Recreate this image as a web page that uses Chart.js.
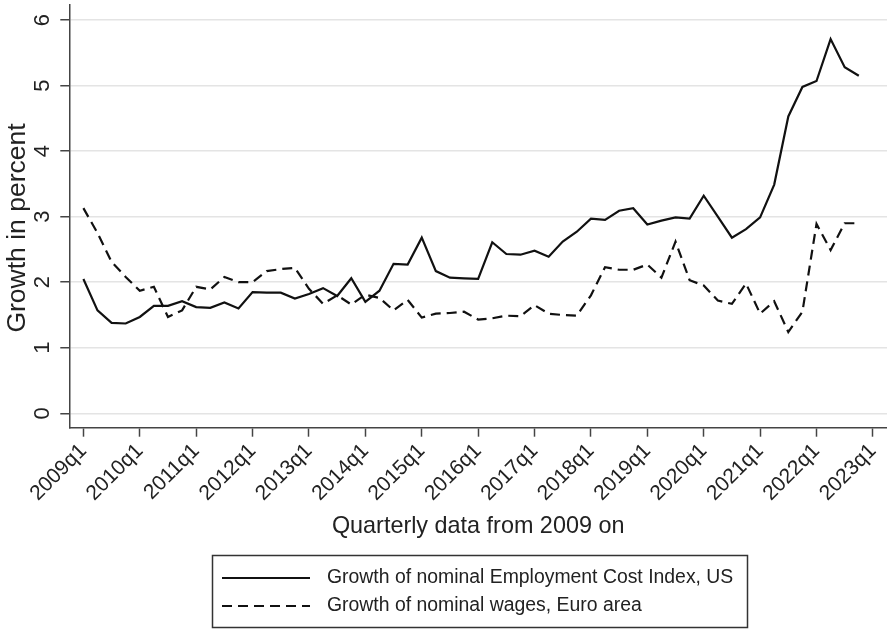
<!DOCTYPE html>
<html>
<head>
<meta charset="utf-8">
<script src="https://cdn.jsdelivr.net/npm/chart.js@4.4.1/dist/chart.umd.min.js"></script>
<style>
  html, body { margin: 0; padding: 0; background: #fff; }
  #wrap { width: 887px; height: 630px; }
</style>
</head>
<body>
<div id="wrap"><canvas id="chart" width="887" height="630"></canvas></div>
<script>
// quarters 2009q1 .. 2022q4 (index 0..55), ticks every 4 quarters
const tickLabels = ['2009q1','2010q1','2011q1','2012q1','2013q1','2014q1','2015q1',
  '2016q1','2017q1','2018q1','2019q1','2020q1','2021q1','2022q1','2023q1'];
const yTicks = [0, 1, 2, 3, 4, 5, 6];

const usEci = [
  2.05, 1.57, 1.38, 1.37, 1.47, 1.64, 1.64, 1.71, 1.62, 1.61, 1.69, 1.60, 1.85, 1.84,
  1.84, 1.75, 1.82, 1.91, 1.79, 2.06, 1.70, 1.87, 2.28, 2.27, 2.68, 2.17, 2.07, 2.06,
  2.05, 2.61, 2.43, 2.42, 2.48, 2.39, 2.62, 2.77, 2.97, 2.95, 3.09, 3.13, 2.88, 2.94,
  2.99, 2.97, 3.32, 3.00, 2.68, 2.81, 2.99, 3.49, 4.53, 4.98, 5.07, 5.71, 5.28, 5.15
];
const euroWages = [
  3.13, 2.75, 2.31, 2.08, 1.87, 1.93, 1.47, 1.57, 1.93, 1.89, 2.08, 2.00, 2.00, 2.17,
  2.20, 2.22, 1.90, 1.67, 1.80, 1.66, 1.81, 1.76, 1.57, 1.73, 1.46, 1.52, 1.53, 1.55,
  1.43, 1.45, 1.49, 1.48, 1.65, 1.52, 1.50, 1.49, 1.80, 2.23, 2.19, 2.19, 2.27, 2.07,
  2.62, 2.03, 1.95, 1.72, 1.67, 1.98, 1.52, 1.71, 1.24, 1.55, 2.89, 2.49, 2.90, 2.90
];

const seriesNames = ['Growth of nominal Employment Cost Index, US', 'Growth of nominal wages, Euro area'];
const yTitle = 'Growth in percent';

const FONT = 'Liberation Sans, Arial, sans-serif';
const INK = '#222';

const toPoints = arr => arr.map((v, i) => ({ x: i, y: v }));

// y title + framed legend, placed like the Stata original
const decorations = {
  id: 'decorations',
  afterDraw(chart) {
    const ctx = chart.ctx;
    ctx.save();
    ctx.fillStyle = INK;
    ctx.font = '26.5px ' + FONT;
    ctx.textAlign = 'center';
    ctx.textBaseline = 'middle';
    ctx.translate(18, 228);
    ctx.rotate(-Math.PI / 2);
    ctx.fillText(yTitle, 0, 0);
    ctx.restore();

    ctx.save();
    ctx.strokeStyle = '#333';
    ctx.lineWidth = 1.5;
    ctx.strokeRect(212.5, 555.5, 535, 72);
    chart.data.datasets.forEach((ds, i) => {
      const y = 578 + i * 28;
      ctx.beginPath();
      ctx.setLineDash(ds.borderDash || []);
      ctx.strokeStyle = ds.borderColor;
      ctx.lineWidth = ds.borderWidth;
      ctx.moveTo(222, y);
      ctx.lineTo(310, y);
      ctx.stroke();
      ctx.setLineDash([]);
      ctx.fillStyle = INK;
      ctx.font = '19.4px ' + FONT;
      ctx.textBaseline = 'middle';
      ctx.fillText(ds.label, 327, y);
    });
    ctx.restore();
  }
};

new Chart(document.getElementById('chart'), {
  type: 'line',
  data: {
    datasets: [
      { label: seriesNames[0], data: toPoints(usEci), borderColor: '#111', borderWidth: 2.2,
        pointRadius: 0, tension: 0, fill: false },
      { label: seriesNames[1], data: toPoints(euroWages), borderColor: '#111', borderWidth: 2.2,
        borderDash: [10, 6], pointRadius: 0, tension: 0, fill: false }
    ]
  },
  options: {
    responsive: false,
    animation: false,
    devicePixelRatio: 1,
    layout: { padding: { left: 0, right: 0, top: 5, bottom: 77 } },
    plugins: { legend: { display: false }, tooltip: { enabled: false } },
    scales: {
      x: {
        type: 'linear',
        min: -1,
        max: 57,
        afterBuildTicks: s => { s.ticks = tickLabels.map((t, i) => ({ value: i * 4 })); },
        afterFit: s => { s.height = 125.3; s.paddingLeft = 0; s.paddingRight = 0; },
        ticks: {
          autoSkip: false,
          minRotation: 45,
          maxRotation: 45,
          padding: 2,
          color: INK,
          font: { family: FONT, size: 21 },
          callback: v => tickLabels[v / 4]
        },
        grid: { drawOnChartArea: false, drawTicks: true, tickLength: 9, tickColor: '#444', tickWidth: 1.5 },
        border: { color: '#444', width: 1.5 },
        title: {
          display: true,
          text: 'Quarterly data from 2009 on',
          color: INK,
          font: { family: FONT, size: 23.4 },
          padding: { top: 0, bottom: 12 }
        }
      },
      y: {
        min: -0.22,
        max: 6.23,
        afterBuildTicks: s => { s.ticks = yTicks.map(v => ({ value: v })); },
        afterFit: s => { s.width = 69.3; s.paddingTop = 0; s.paddingBottom = 0; },
        ticks: {
          minRotation: 90,
          maxRotation: 90,
          crossAlign: 'center',
          padding: 11,
          color: INK,
          font: { family: FONT, size: 22 }
        },
        grid: { color: '#e4e4e4', lineWidth: 1.5, drawTicks: true, tickLength: 9, tickColor: '#444', tickWidth: 1.5 },
        border: { color: '#444', width: 1.5 }
      }
    }
  },
  plugins: [decorations]
});
</script>
</body>
</html>
